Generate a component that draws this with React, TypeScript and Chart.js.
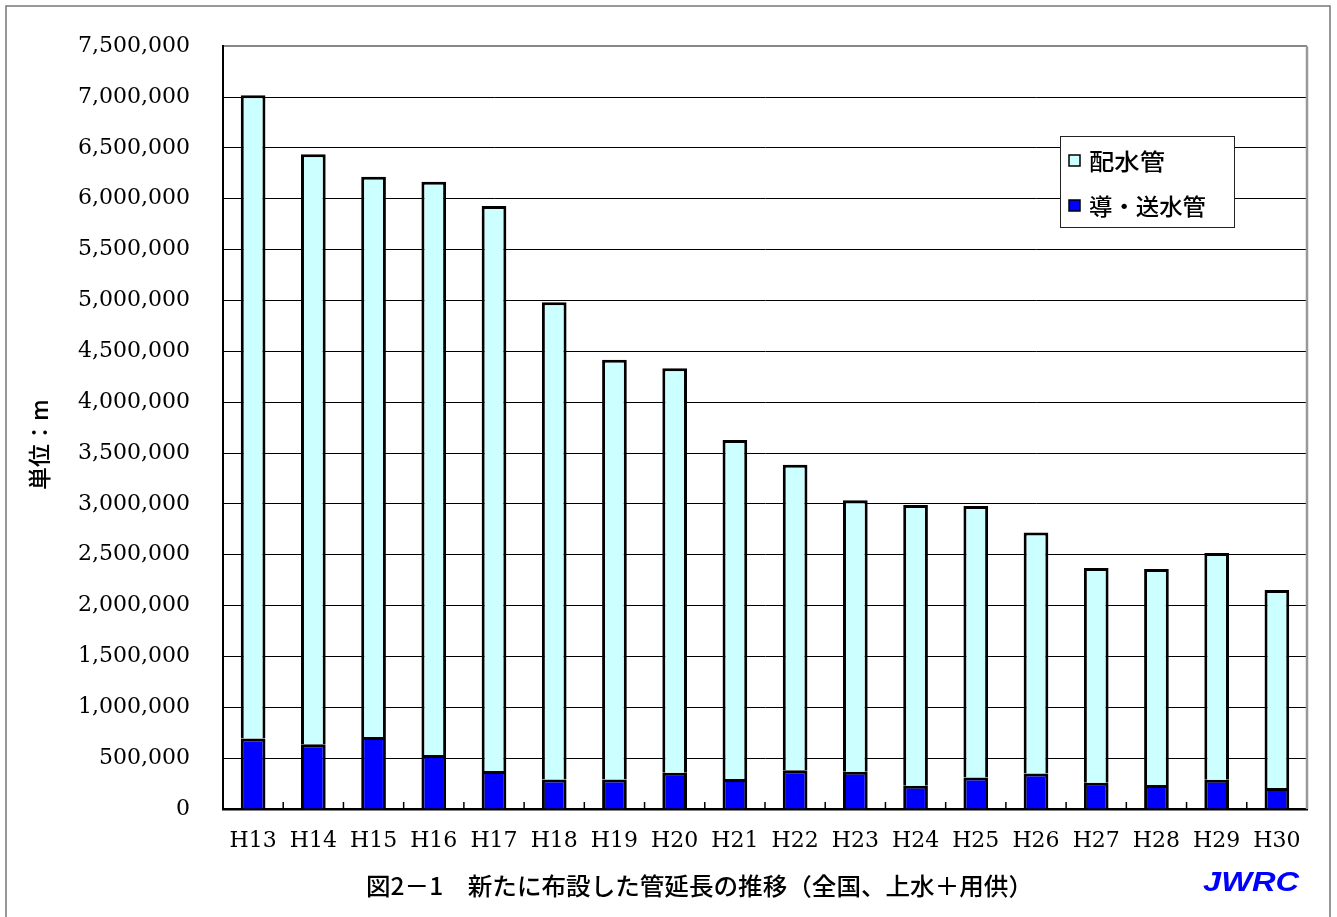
import React, { useEffect, useRef } from "react";
import { Chart, registerables } from "chart.js";

Chart.register(...registerables);

// ---- data ----
const categories = ["H13", "H14", "H15", "H16", "H17", "H18", "H19", "H20", "H21", "H22", "H23", "H24", "H25", "H26", "H27", "H28", "H29", "H30"];
// 導・送水管 (conveyance / transmission pipes)
const conveyancePipe = [693000, 637000, 709000, 532000, 373000, 291000, 291000, 356000, 294000, 382000, 366000, 228000, 310000, 350000, 258000, 235000, 287000, 206000];
// 配水管 (distribution pipes)
const distributionPipe = [6324000, 5801000, 5507000, 5635000, 5557000, 4692000, 4127000, 3977000, 3333000, 3003000, 2670000, 2762000, 2670000, 2369000, 2112000, 2125000, 2230000, 1948000];
const seriesLabels = ["導・送水管", "配水管"];
const legendOrder = ["配水管", "導・送水管"];
const yMin = 0;
const yMax = 7500000;
const yStep = 500000;
const titleText = "図2－1　新たに布設した管延長の推移（全国、上水＋用供）";
const yAxisTitle = "単位：m";
const brandText = "JWRC";

const CYAN = "#CCFFFF";
const BLUE = "#0000FF";
const JP_FONT = '"Noto Sans CJK JP", "Noto Sans", sans-serif';
const SERIF = '"DejaVu Serif", serif';

function drawStretched(ctx: CanvasRenderingContext2D, text: string, x: number, y: number, width: number) {
  (ctx as any).letterSpacing = "0px";
  const w = ctx.measureText(text).width;
  ctx.save();
  ctx.translate(x, y);
  ctx.scale(width / w, 1);
  ctx.textAlign = "left";
  ctx.fillText(text, 0, 0);
  ctx.restore();
}

const decorPlugin = {
  id: "decor",
  beforeDraw(chart: any) {
    const ctx = chart.ctx as CanvasRenderingContext2D;
    ctx.save();
    ctx.fillStyle = "#fff";
    ctx.fillRect(0, 0, chart.width, chart.height);
    ctx.strokeStyle = "#777";
    ctx.lineWidth = 1.5;
    ctx.beginPath();
    ctx.moveTo(6, chart.height + 2);
    ctx.lineTo(6, 6);
    ctx.lineTo(1330, 6);
    ctx.lineTo(1330, chart.height + 2);
    ctx.stroke();
    ctx.restore();
  },
  afterDatasetsDraw(chart: any) {
    const ctx = chart.ctx as CanvasRenderingContext2D;
    const area = chart.chartArea;
    const xs = chart.scales.x;
    ctx.save();
    ctx.strokeStyle = "#999";
    ctx.lineWidth = 2.5;
    ctx.beginPath();
    ctx.moveTo(area.right, area.top);
    ctx.lineTo(area.right, area.bottom);
    ctx.stroke();
    ctx.strokeStyle = "#000";
    ctx.lineWidth = 1.5;
    ctx.beginPath();
    for (let i = 0; i < categories.length - 1; i++) {
      const px = (xs.getPixelForValue(i) + xs.getPixelForValue(i + 1)) / 2;
      ctx.moveTo(px, area.bottom);
      ctx.lineTo(px, area.bottom - 7);
    }
    ctx.stroke();
    ctx.restore();
  },
  afterDraw(chart: any) {
    const ctx = chart.ctx as CanvasRenderingContext2D;
    ctx.save();
    // legend
    const lx = 1060, ly = 136, lw = 174, lh = 91;
    ctx.fillStyle = "#fff";
    ctx.fillRect(lx, ly, lw, lh);
    ctx.strokeStyle = "#222";
    ctx.lineWidth = 1;
    ctx.strokeRect(lx + 0.5, ly + 0.5, lw, lh);
    const items = [
      { label: legendOrder[0], color: CYAN, y: 160, w: 76 },
      { label: legendOrder[1], color: BLUE, y: 205, w: 117 },
    ];
    ctx.font = `500 23px ${JP_FONT}`;
    ctx.textBaseline = "middle";
    for (const it of items) {
      ctx.fillStyle = it.color;
      ctx.fillRect(lx + 9, it.y - 5, 11, 11);
      ctx.strokeStyle = "#000";
      ctx.lineWidth = 1.5;
      ctx.strokeRect(lx + 9, it.y - 5, 11, 11);
      ctx.fillStyle = "#000";
      drawStretched(ctx, it.label, lx + 29, it.y + 1, it.w);
    }
    // title
    ctx.font = `500 24px ${JP_FONT}`;
    ctx.fillStyle = "#000";
    ctx.textBaseline = "middle";
    drawStretched(ctx, titleText, 366, 886, 667);
    // brand
    ctx.font = `italic bold 27px "Liberation Sans", Arial, sans-serif`;
    ctx.fillStyle = BLUE;
    drawStretched(ctx, brandText, 1203, 884, 96);
    // y-axis title
    ctx.save();
    ctx.translate(39, 446);
    ctx.rotate(-Math.PI / 2);
    ctx.font = `500 23px ${JP_FONT}`;
    ctx.fillStyle = "#000";
    ctx.textBaseline = "middle";
    const tw = ctx.measureText(yAxisTitle).width;
    drawStretched(ctx, yAxisTitle, -44, 0, Math.max(tw, 88));
    ctx.restore();
    ctx.restore();
  },
};

export default function App() {
  const ref = useRef<HTMLCanvasElement | null>(null);
  useEffect(() => {
    document.body.style.margin = "0";
    const canvas = ref.current!;
    const chart = new Chart(canvas, {
      type: "bar",
      data: {
        labels: categories,
        datasets: [
          {
            label: seriesLabels[0],
            data: conveyancePipe,
            backgroundColor: BLUE,
            borderColor: "#000",
            borderWidth: 3,
            barPercentage: 0.41,
            categoryPercentage: 1,
          },
          {
            label: seriesLabels[1],
            data: distributionPipe,
            backgroundColor: CYAN,
            borderColor: "#000",
            borderWidth: 3,
            barPercentage: 0.41,
            categoryPercentage: 1,
          },
        ],
      },
      options: {
        responsive: false,
        animation: false,
        devicePixelRatio: 1,
        layout: { padding: { left: 0, right: 30, top: 41.8, bottom: 0 } },
        plugins: {
          legend: { display: false },
          title: { display: false },
          tooltip: { enabled: false },
        },
        scales: {
          x: {
            stacked: true,
            grid: { display: false, drawTicks: false },
            border: { display: true, color: "#000", width: 2.5 },
            ticks: {
              color: "#000",
              font: { family: SERIF, size: 22 },
              padding: 19,
              maxRotation: 0,
              autoSkip: false,
            },
            afterFit: (s: any) => {
              s.height = 108;
            },
          },
          y: {
            stacked: true,
            min: yMin,
            max: yMax,
            grid: {
              color: (c: any) => (c.tick && c.tick.value === yMax ? "#888" : "#000"),
              lineWidth: (c: any) => (c.tick && c.tick.value === yMax ? 2 : 1),
              drawTicks: false,
            },
            border: { display: true, color: "#000", width: 2 },
            ticks: {
              stepSize: yStep,
              color: "#000",
              font: { family: SERIF, size: 22 },
              padding: 33,
              callback: (v: any) => Number(v).toLocaleString("en-US"),
            },
            afterFit: (s: any) => {
              s.width = 223;
            },
          },
        },
      },
      plugins: [decorPlugin],
    } as any);
    return () => chart.destroy();
  }, []);
  return <canvas ref={ref} width={1337} height={917} style={{ display: "block" }} />;
}
